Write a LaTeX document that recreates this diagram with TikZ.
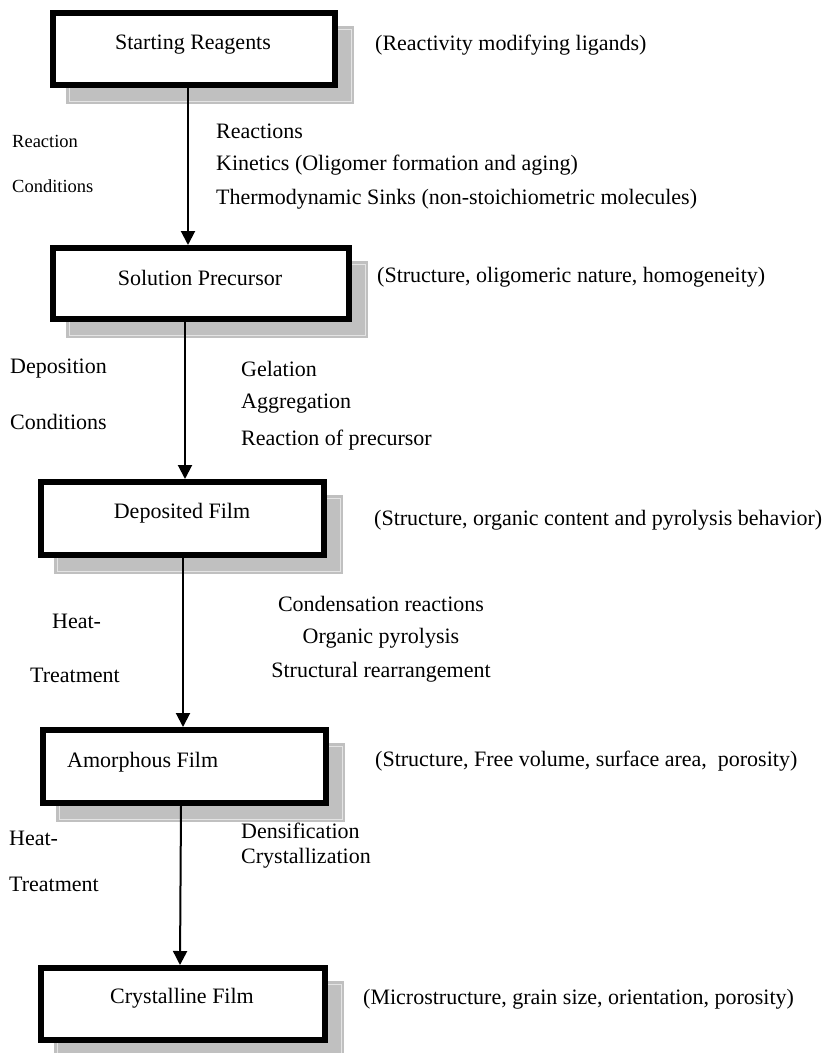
\documentclass[tikz,border=0pt]{standalone}
\usepackage{fontspec}
\setmainfont{Liberation Serif}
\usetikzlibrary{arrows.meta,backgrounds}
\definecolor{shadowgray}{RGB}{192,192,192}
\definecolor{shadowline}{RGB}{228,228,228}
\begin{document}
\begin{tikzpicture}[x=1pt,y=-1pt,
  stagebox/.style={draw,fill=white,line width=6pt,inner sep=0pt},
  txt/.style={inner sep=0pt,font=\fontsize{22}{26}\selectfont},
  smalltxt/.style={inner sep=0pt,font=\fontsize{18.5}{22}\selectfont},
  flow/.style={line width=2pt,-{Triangle[width=14pt,length=14pt]}},
  shadowfill/.style={fill=shadowgray},
  shadowedge/.style={draw=shadowline,line width=1pt}]
\useasboundingbox (0,0) rectangle (822,1053);

% boxes
\node[stagebox,minimum width=282pt,minimum height=72pt] (b1) at (194,49) {};
\node[stagebox,minimum width=296pt,minimum height=71pt] (b2) at (201,283.5) {};
\node[stagebox,minimum width=283pt,minimum height=73pt] (b3) at (182.5,518.5) {};
\node[stagebox,minimum width=283pt,minimum height=73pt] (b4) at (184.5,766.5) {};
\node[stagebox,minimum width=284pt,minimum height=72pt] (b5) at (183,1004) {};

% shadows
\begin{scope}[on background layer]
\foreach \b in {b1,b2,b3,b4,b5}{
  \fill[shadowfill] ([shift={(16,16)}]\b.south west) rectangle ([shift={(16,16)}]\b.north east);
  \draw[shadowedge] ([shift={(19,13)}]\b.south west) rectangle ([shift={(13,19)}]\b.north east);
}
\end{scope}

% box texts
\node[txt] (t1) at (193,45) {Starting Reagents};
\node[txt] (t2) at (200,278) {Solution Precursor};
\node[txt] (t3) at (182,513) {Deposited Film};
\node[txt,anchor=west] (t4) at (67,762) {Amorphous Film};
\node[txt] (t5) at (182,998) {Crystalline Film};

% arrows
\draw[flow] ([xshift=-6pt]b1.south) -- ([xshift=-13pt]b2.north);
\draw[flow] ([xshift=-16pt]b2.south) -- ([xshift=2.5pt]b3.north);
\draw[flow] ([xshift=0.5pt]b3.south) -- ([xshift=-1.5pt]b4.north);
\draw[flow] ([xshift=-3.5pt]b4.south) -- ([xshift=-3pt]b5.north);

% side notes
\node[txt,anchor=west] (n1) at (375,45) {(Reactivity modifying ligands)};
\node[txt,anchor=west] (n2) at (377,277) {(Structure, oligomeric nature, homogeneity)};
\node[txt,anchor=west] (n3) at (374,520) {(Structure, organic content and pyrolysis behavior)};
\node[txt,anchor=west] (n4) at (375,761) {(Structure, Free volume, surface area,\ \ porosity)};
\node[txt,anchor=west] (n5) at (363,999) {(Microstructure, grain size, orientation, porosity)};

% step 1
\node[smalltxt,anchor=west] (c1a) at (12,141) {Reaction};
\node[smalltxt,anchor=west] (c1b) at (12,186) {Conditions};
\node[txt,anchor=west] (p1a) at (216,131) {Reactions};
\node[txt,anchor=west] (p1b) at (216,165) {Kinetics (Oligomer formation and aging)};
\node[txt,anchor=west] (p1c) at (216,199) {Thermodynamic Sinks (non-stoichiometric molecules)};

% step 2
\node[txt,anchor=west] (c2a) at (10,369) {Deposition};
\node[txt,anchor=west] (c2b) at (10,422) {Conditions};
\node[txt,anchor=west] (p2a) at (241,369) {Gelation};
\node[txt,anchor=west] (p2b) at (241,404) {Aggregation};
\node[txt,anchor=west] (p2c) at (241,440) {Reaction of precursor};

% step 3
\node[txt,anchor=west] (c3a) at (52,621) {Heat-};
\node[txt,anchor=west] (c3b) at (30,675) {Treatment};
\node[txt] (p3a) at (381,604) {Condensation reactions};
\node[txt] (p3b) at (381,638) {Organic pyrolysis};
\node[txt] (p3c) at (381,672) {Structural rearrangement};

% step 4
\node[txt,anchor=west] (c4a) at (9,838) {Heat-};
\node[txt,anchor=west] (c4b) at (9,884) {Treatment};
\node[txt,anchor=west] (p4a) at (241,831) {Densification};
\node[txt,anchor=west] (p4b) at (241,858) {Crystallization};
\end{tikzpicture}
\end{document}
